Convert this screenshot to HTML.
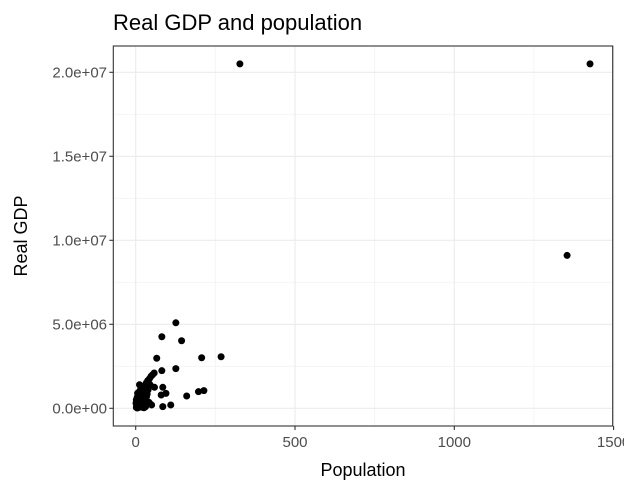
<!DOCTYPE html>
<html><head><meta charset="utf-8"><style>
body{margin:0;background:#fff;}
svg text{font-family:"Liberation Sans",Arial,sans-serif;}
</style></head><body>
<svg width="624" height="492" xmlns="http://www.w3.org/2000/svg">
<rect width="624" height="492" fill="#fff"/>
<text x="113" y="30" font-size="22" fill="#000">Real GDP and population</text>
<g id="grid"></g>
<g id="pts"></g>
<rect x="113.3" y="46" width="499.4" height="380" fill="none" stroke="#333" stroke-width="1.1"/>
<g id="axes"></g>
<text x="363" y="476" font-size="18" text-anchor="middle" fill="#000">Population</text>
<text transform="translate(27,236) rotate(-90)" font-size="18" text-anchor="middle" fill="#000">Real GDP</text>
</svg>
<script>
const xTicks=[0,500,1000,1500];
const xTickLabels=["0","500","1000","1500"];
const xMinor=[250,750,1250];
const yTicks=[0,5e6,1e7,1.5e7,2e7];
const yTickLabels=["0.0e+00","5.0e+06","1.0e+07","1.5e+07","2.0e+07"];
const yMinor=[2.5e6,7.5e6,1.25e7,1.75e7];
const population=[327,1426,1354,126,82,144,66,207,268,82,126,160,197,214,85,110,59,85,95,80,
33,38,43,48,53,58,36,45,
2,3,4,5,6,7,8,9,10,11,12,14,15,16,18,20,22,24,26,28,30,32,35,38,40,
1,2,4,6,8,10,12,15,18,20,25,28,31,
5,10,15,20,25,30,35,3,8,13,17,23,27,19,21,24,29,34,37,42,46,50,5,9,14,11,16,22,26,31,12,6,
3,7,11,15,19,23,27,31,35,39,4,8,12,16,20,24,28,32,36,6,10,14,18,22,26,30,34,9,13,17,21,25,29,15,19,23];
const gdp=[20.5e6,20.5e6,9.1e6,5.09e6,4.26e6,4.02e6,2.98e6,3.01e6,3.07e6,2.24e6,2.36e6,0.73e6,0.99e6,1.05e6,0.1e6,0.2e6,1.25e6,1.25e6,0.89e6,0.79e6,
1.5e6,1.65e6,1.75e6,1.9e6,2.0e6,2.1e6,1.2e6,1.4e6,
0.05e6,0.1e6,0.15e6,0.2e6,0.25e6,0.3e6,0.35e6,0.4e6,0.45e6,0.5e6,0.55e6,0.6e6,0.65e6,0.7e6,0.75e6,0.8e6,0.85e6,0.9e6,0.95e6,1.0e6,1.05e6,1.1e6,1.15e6,1.2e6,1.3e6,
0.3e6,0.5e6,0.6e6,0.7e6,0.8e6,0.9e6,1.0e6,1.1e6,1.2e6,1.3e6,1.0e6,0.8e6,0.6e6,
0.02e6,0.05e6,0.1e6,0.15e6,0.2e6,0.25e6,0.3e6,0.4e6,0.45e6,0.35e6,0.3e6,0.5e6,0.4e6,0.6e6,0.7e6,0.5e6,0.55e6,0.45e6,0.3e6,0.35e6,0.25e6,0.2e6,0.6e6,0.2e6,0.1e6,0.12e6,0.08e6,0.05e6,0.03e6,0.1e6,1.4e6,0.9e6,
0.2e6,0.3e6,0.4e6,0.5e6,0.6e6,0.7e6,0.8e6,0.9e6,1.0e6,1.1e6,0.1e6,0.15e6,0.25e6,0.35e6,0.45e6,0.55e6,0.65e6,0.75e6,0.85e6,0.05e6,0.1e6,0.2e6,0.3e6,0.4e6,0.5e6,0.6e6,0.7e6,0.8e6,0.9e6,1.0e6,1.1e6,1.2e6,1.25e6,0.95e6,0.85e6,0.75e6];
const X0=113.3,X1=612.7,Y0=426,Y1=46;
function sx(v){return 135.7+v*(159.3/500);}
function sy(v){return 408.3-v*(84/5e6);}
const NS="http://www.w3.org/2000/svg";
function mk(t,a,p){const e=document.createElementNS(NS,t);for(const k in a)e.setAttribute(k,a[k]);p.appendChild(e);return e;}
const grid=document.getElementById('grid'),axes=document.getElementById('axes'),pts=document.getElementById('pts');
xMinor.forEach(v=>{const l=mk('line',{x1:sx(v),x2:sx(v),y1:Y1,y2:Y0,stroke:'#f4f4f4','stroke-width':0.8},grid);

});
yMinor.forEach(v=>{const l=mk('line',{x1:X0,x2:X1,y1:sy(v),y2:sy(v),stroke:'#f4f4f4','stroke-width':0.8},grid);

});
xTicks.forEach((v,i)=>{const l=mk('line',{x1:sx(v),x2:sx(v),y1:Y1,y2:Y0,stroke:'#ebebeb','stroke-width':1.1},grid);


const t=mk('line',{x1:sx(v),x2:sx(v),y1:Y0,y2:Y0+4,stroke:'#333','stroke-width':1.1},axes);


const tx=mk('text',{x:sx(v),y:447,'font-size':15,'text-anchor':'middle',fill:'#4d4d4d'},axes);tx.textContent=xTickLabels[i];

});
yTicks.forEach((v,i)=>{const l=mk('line',{x1:X0,x2:X1,y1:sy(v),y2:sy(v),stroke:'#ebebeb','stroke-width':1.1},grid);


const t=mk('line',{x1:X0-4,x2:X0,y1:sy(v),y2:sy(v),stroke:'#333','stroke-width':1.1},axes);


const tx=mk('text',{x:107,y:sy(v)+5,'font-size':15,'text-anchor':'end',fill:'#4d4d4d'},axes);tx.textContent=yTickLabels[i];

});
population.forEach((p,i)=>{const c=mk('circle',{cx:sx(p),cy:sy(gdp[i]),r:3.5,fill:'#000'},pts);

});
</script>
</body></html>
